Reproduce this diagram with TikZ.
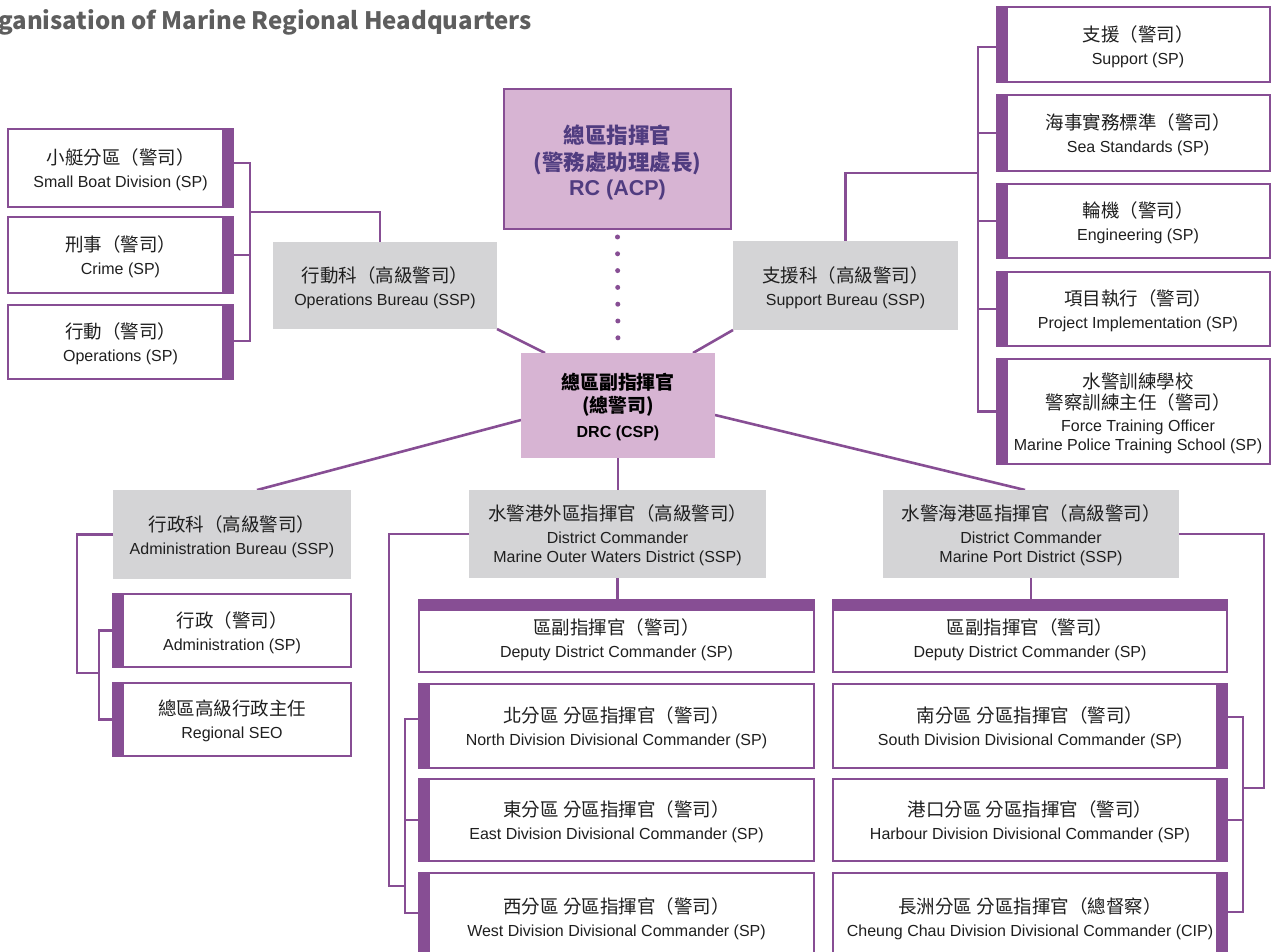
\documentclass[tikz,border=0pt]{standalone}
\usepackage{fontspec}
\setmainfont{Liberation Sans}
\newfontfamily\cjk{Noto Sans CJK TC}
\usetikzlibrary{backgrounds}
\definecolor{mpur}{HTML}{874E94}
\definecolor{lpur}{HTML}{D7B4D3}
\definecolor{bgray}{HTML}{D4D4D6}
\definecolor{rctext}{HTML}{503C80}
\definecolor{ttlgray}{HTML}{5E5E5E}
\newcommand{\zh}[1]{{\cjk\fontsize{18.5}{19}\selectfont #1}}
\newcommand{\tb}[2][3pt]{\raisebox{-#1}[\height][\depth]{\begin{tabular}{@{}c@{}}#2\end{tabular}}}
\newcommand{\tbr}[2][3pt]{\raisebox{-#1}[\height][\depth]{\begin{tabular}{@{\hspace{9pt}}c@{}}#2\end{tabular}}}
\tikzset{
  geo/.style n args={4}{at={({(#1+#3)/2},{-(#2+#4)/2})}, anchor=center, minimum width={(#3-#1)*1pt}, minimum height={(#4-#2)*1pt}},
  box/.style={inner sep=0pt, outer sep=0pt, font=\fontsize{16}{19}\selectfont, text=black!88},
  graybox/.style={box, fill=bgray},
  spbox/.style={box, draw=mpur, line width=2.5pt, fill=white},
  barR/.style={path picture={\fill[mpur] ([xshift=-11pt]path picture bounding box.north east) rectangle (path picture bounding box.south east);}},
  barL/.style={path picture={\fill[mpur] (path picture bounding box.north west) rectangle ([xshift=11pt]path picture bounding box.south west);}},
  barT/.style={path picture={\fill[mpur] (path picture bounding box.north west) rectangle ([yshift=-11pt]path picture bounding box.north east);}},
  conn/.style={draw=mpur, line width=2.6pt},
}
\begin{document}
\begin{tikzpicture}[x=1pt,y=1pt]
\useasboundingbox (0,0) rectangle (1272,-952);

% title
\node[anchor=base west, inner sep=0pt, font=\cjk\bfseries\fontsize{24}{28}\selectfont, text=ttlgray] (title) at (-2,-30) {ganisation of Marine Regional Headquarters};

% left column (operations)
\node[spbox, barR, geo={8}{129}{233}{207}] (sb) {\tb{\zh{小艇分區（警司）}\\[4pt]Small Boat Division (SP)}};
\node[spbox, barR, geo={8}{217}{233}{293}] (crime) {\tb{\zh{刑事（警司）}\\[4pt]Crime (SP)}};
\node[spbox, barR, geo={8}{305}{233}{379}] (ops) {\tb{\zh{行動（警司）}\\[4pt]Operations (SP)}};
\node[graybox, geo={273}{242}{497}{329}] (opsb) {\tb{\zh{行動科（高級警司）}\\[4pt]Operations Bureau (SSP)}};

% centre
\node[box, draw=mpur, line width=2.5pt, fill=lpur, text=rctext, font=\bfseries\fontsize{21.5}{26}\selectfont, geo={504}{89}{731}{229}] (rc) {\tb[5pt]{{\cjk 總區指揮官}\\[1pt]{\cjk (警務處助理處長)}\\[-1pt]RC (ACP)}};
\node[box, fill=lpur, text=black, font=\bfseries\fontsize{16}{22}\selectfont, geo={521}{353}{715}{458}] (drc) {\tb{{\cjk\fontsize{18.9}{22}\selectfont 總區副指揮官}\\{\cjk\fontsize{18.9}{22}\selectfont (總警司)}\\[3pt]DRC (CSP)}};
\node[graybox, geo={733}{241}{958}{330}] (supb) {\tb{\zh{支援科（高級警司）}\\[4pt]Support Bureau (SSP)}};

% right column (support)
\node[spbox, barL, geo={997}{7}{1270}{82}] (sup) {\tbr{\zh{支援（警司）}\\[4pt]Support (SP)}};
\node[spbox, barL, geo={997}{95}{1270}{171}] (sea) {\tbr{\zh{海事實務標準（警司）}\\[4pt]Sea Standards (SP)}};
\node[spbox, barL, geo={997}{184}{1270}{258}] (eng) {\tbr{\zh{輪機（警司）}\\[4pt]Engineering (SP)}};
\node[spbox, barL, geo={997}{272}{1270}{346}] (proj) {\tbr{\zh{項目執行（警司）}\\[4pt]Project Implementation (SP)}};
\node[spbox, barL, geo={997}{359}{1270}{464}] (train) {\tbr{\zh{水警訓練學校}\\\zh{警察訓練主任（警司）}\\[3pt]Force Training Officer\\Marine Police Training School (SP)}};

% administration
\node[graybox, geo={113}{490}{351}{579}] (admb) {\tb{\zh{行政科（高級警司）}\\[4pt]Administration Bureau (SSP)}};
\node[spbox, barL, geo={113}{594}{351}{667}] (adm) {\tb{\zh{行政（警司）}\\[4pt]Administration (SP)}};
\node[spbox, barL, geo={113}{683}{351}{756}] (seo) {\tb{\zh{總區高級行政主任}\\[4pt]Regional SEO}};

% outer waters district
\node[graybox, geo={469}{490}{766}{578}] (owd) {\tb[2pt]{\zh{水警港外區指揮官（高級警司）}\\[4pt]District Commander\\Marine Outer Waters District (SSP)}};
\node[spbox, barT, geo={419}{600}{814}{672}] (dl) {\tb[4.5pt]{\zh{區副指揮官（警司）}\\[4pt]Deputy District Commander (SP)}};
\node[spbox, barL, geo={419}{684}{814}{768}] (north) {\tb{\zh{北分區 分區指揮官（警司）}\\[4pt]North Division Divisional Commander (SP)}};
\node[spbox, barL, geo={419}{779}{814}{861}] (east) {\tb{\zh{東分區 分區指揮官（警司）}\\[4pt]East Division Divisional Commander (SP)}};
\node[spbox, barL, geo={419}{873}{814}{960}] (west) {\tb{\zh{西分區 分區指揮官（警司）}\\[4pt]West Division Divisional Commander (SP)}};

% port district
\node[graybox, geo={883}{490}{1179}{578}] (pd) {\tb[2pt]{\zh{水警海港區指揮官（高級警司）}\\[4pt]District Commander\\Marine Port District (SSP)}};
\node[spbox, barT, geo={833}{600}{1227}{672}] (dr) {\tb[4.5pt]{\zh{區副指揮官（警司）}\\[4pt]Deputy District Commander (SP)}};
\node[spbox, barR, geo={833}{684}{1227}{768}] (south) {\tb{\zh{南分區 分區指揮官（警司）}\\[4pt]South Division Divisional Commander (SP)}};
\node[spbox, barR, geo={833}{779}{1227}{861}] (harb) {\tb{\zh{港口分區 分區指揮官（警司）}\\[4pt]Harbour Division Divisional Commander (SP)}};
\node[spbox, barR, geo={833}{873}{1227}{960}] (cc) {\tb{\zh{長洲分區 分區指揮官（總督察）}\\[4pt]Cheung Chau Division Divisional Commander (CIP)}};

% connectors
\begin{scope}[on background layer]
  % operations bureau
  \coordinate (lbT) at (250,-163);
  \coordinate (lbB) at (250,-341);
  \coordinate (lbJ) at (250,-212);
  \draw[conn] (sb.east |- lbT) -- (lbT) -- (lbB) -- (ops.east |- lbB);
  \draw[conn] (crime.east) -- (crime.east -| lbT);
  \draw[conn] ([xshift=-5pt]opsb.north) |- (lbJ);
  % support bureau
  \coordinate (rbT) at (978,-47);
  \coordinate (rbB) at (978,-411.5);
  \coordinate (rbJ) at (978,-173);
  \draw[conn] (sup.west |- rbT) -- (rbT) -- (rbB) -- (train.west);
  \foreach \n in {sea,eng,proj} \draw[conn] (\n.west) -- (\n.west -| rbT);
  \draw[conn] (supb.north) |- (rbJ);
  % centre
  \draw[mpur, line width=5pt, line cap=round, dash pattern=on 0pt off 16.8pt] ([yshift=-8pt]rc.south) -- (drc.north);
  \draw[conn] (opsb.south east) -- ([xshift=24pt]drc.north west);
  \draw[conn] (supb.south west) -- ([xshift=-22pt]drc.north east);
  \draw[conn] ([yshift=-14.5pt]drc.west) -- ([xshift=25pt]admb.north);
  \draw[conn] ([yshift=-9.5pt]drc.east) -- ([xshift=-6pt]pd.north);
  \draw[conn] (drc.south) -- (drc.south |- owd.north);
  \draw[conn] (owd.south) -- (owd.south |- dl.north);
  \draw[conn] (pd.south) -- (pd.south |- dr.north);
  % administration
  \coordinate (aBot) at (77,-673);
  \coordinate (aJ) at (99,-673);
  \coordinate (aB) at (99,-719.5);
  \draw[conn] (admb.west) -| (aBot) -- (aJ);
  \draw[conn] (adm.west) -| (aB) -- (seo.west);
  % outer waters
  \coordinate (oBot) at (389,-886);
  \coordinate (oJ) at (405,-886);
  \coordinate (oT) at (405,-719);
  \coordinate (oB) at (405,-913);
  \draw[conn] (owd.west) -| (oBot) -- (oJ);
  \draw[conn] (oT -| north.west) -- (oT) -- (oB) -- (oB -| west.west);
  \draw[conn] (east.west) -- (east.west -| oT);
  % port
  \coordinate (pR) at (1264,-788);
  \coordinate (pJ) at (1243,-788);
  \coordinate (pT) at (1243,-717);
  \coordinate (pB) at (1243,-912);
  \draw[conn] (pd.east) -| (pR) -- (pJ);
  \draw[conn] (pT -| south.east) -- (pT) -- (pB) -- (pB -| cc.east);
  \draw[conn] (harb.east) -- (harb.east -| pT);
\end{scope}
\end{tikzpicture}
\end{document}
